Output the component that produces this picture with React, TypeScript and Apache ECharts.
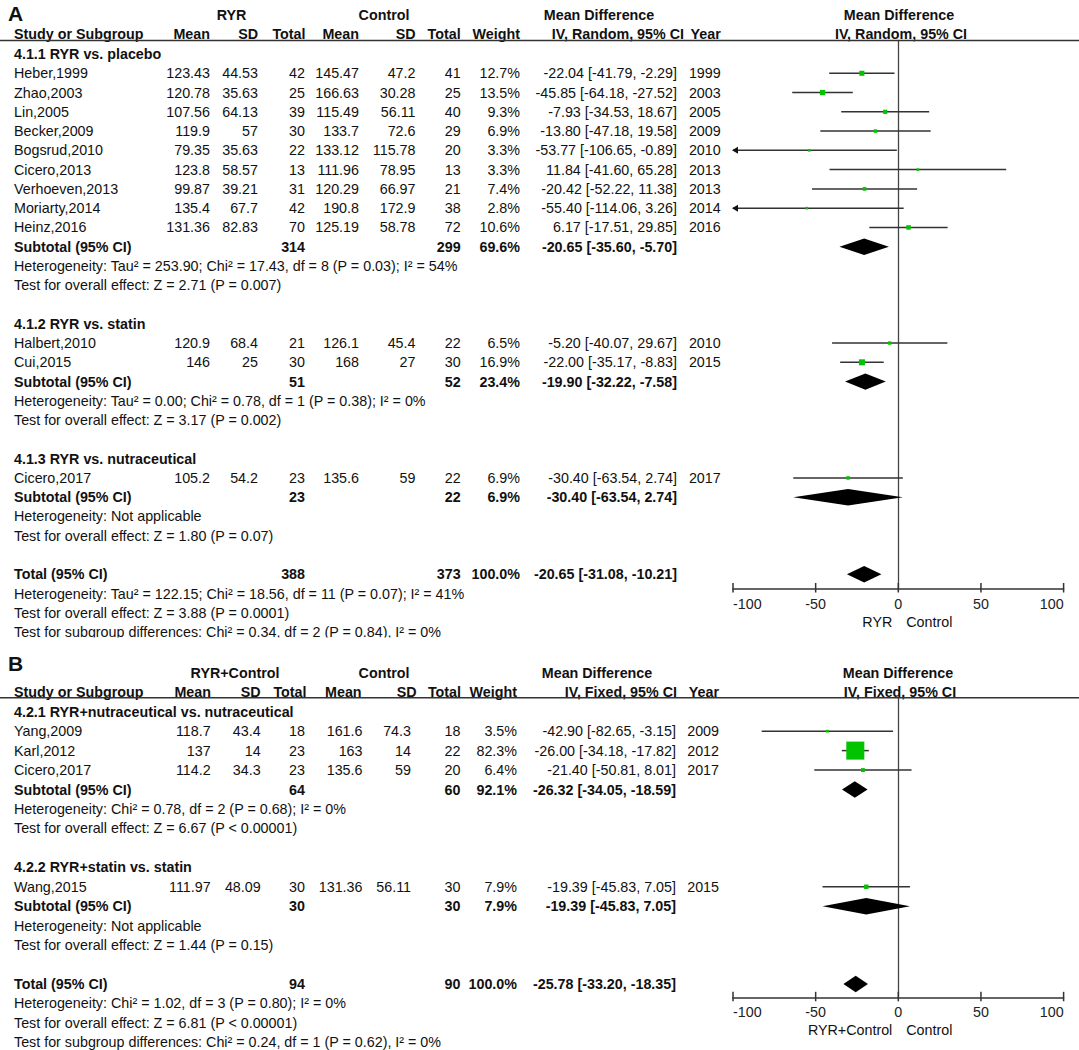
import React, { useEffect, useRef } from 'react';
import * as echarts from 'echarts';

const FONT = '"Liberation Sans", Arial, Helvetica, sans-serif';
const FS = 14.3;
const GREEN = '#00c400';
const INK = '#111111';
const LINE = '#333333';

const X_MIN = -100;
const X_MAX = 100;
const X_STEP = 50;
const TICKS = [-100, -50, 0, 50, 100];
const COL_HEADERS = ['Mean', 'SD', 'Total', 'Mean', 'SD', 'Total', 'Weight'];
const ARM2 = 'Control';

// ---------------- Panel A ----------------
const A_ARM1 = 'RYR';
const A_METHOD = 'IV, Random, 95% CI';
const A_FAVOURS = ['RYR', 'Control'];
const A_STUDY = ['Heber,1999', 'Zhao,2003', 'Lin,2005', 'Becker,2009', 'Bogsrud,2010', 'Cicero,2013', 'Verhoeven,2013', 'Moriarty,2014', 'Heinz,2016', 'Halbert,2010', 'Cui,2015', 'Cicero,2017'];
const A_GROUP = [0, 0, 0, 0, 0, 0, 0, 0, 0, 1, 1, 2];
const A_MEAN1 = [123.43, 120.78, 107.56, 119.9, 79.35, 123.8, 99.87, 135.4, 131.36, 120.9, 146, 105.2];
const A_SD1 = [44.53, 35.63, 64.13, 57, 35.63, 58.57, 39.21, 67.7, 82.83, 68.4, 25, 54.2];
const A_N1 = [42, 25, 39, 30, 22, 13, 31, 42, 70, 21, 30, 23];
const A_MEAN2 = [145.47, 166.63, 115.49, 133.7, 133.12, 111.96, 120.29, 190.8, 125.19, 126.1, 168, 135.6];
const A_SD2 = [47.2, 30.28, 56.11, 72.6, 115.78, 78.95, 66.97, 172.9, 58.78, 45.4, 27, 59];
const A_N2 = [41, 25, 40, 29, 20, 13, 21, 38, 72, 22, 30, 22];
const A_WEIGHT = [12.7, 13.5, 9.3, 6.9, 3.3, 3.3, 7.4, 2.8, 10.6, 6.5, 16.9, 6.9];
const A_MD = [-22.04, -45.85, -7.93, -13.8, -53.77, 11.84, -20.42, -55.4, 6.17, -5.2, -22.0, -30.4];
const A_LO = [-41.79, -64.18, -34.53, -47.18, -106.65, -41.6, -52.22, -114.06, -17.51, -40.07, -35.17, -63.54];
const A_HI = [-2.29, -27.52, 18.67, 19.58, -0.89, 65.28, 11.38, 3.26, 29.85, 29.67, -8.83, 2.74];
const A_YEAR = [1999, 2003, 2005, 2009, 2010, 2013, 2013, 2014, 2016, 2010, 2015, 2017];
const A_GROUP_TITLE = ['4.1.1 RYR vs. placebo', '4.1.2 RYR vs. statin', '4.1.3 RYR vs. nutraceutical'];
const A_SUB_N1 = [314, 51, 23];
const A_SUB_N2 = [299, 52, 22];
const A_SUB_W = [69.6, 23.4, 6.9];
const A_SUB_MD = [-20.65, -19.9, -30.4];
const A_SUB_LO = [-35.6, -32.22, -63.54];
const A_SUB_HI = [-5.7, -7.58, 2.74];
const A_SUB_HET = [
  'Heterogeneity: Tau² = 253.90; Chi² = 17.43, df = 8 (P = 0.03); I² = 54%',
  'Heterogeneity: Tau² = 0.00; Chi² = 0.78, df = 1 (P = 0.38); I² = 0%',
  'Heterogeneity: Not applicable',
];
const A_SUB_TEST = [
  'Test for overall effect: Z = 2.71 (P = 0.007)',
  'Test for overall effect: Z = 3.17 (P = 0.002)',
  'Test for overall effect: Z = 1.80 (P = 0.07)',
];
const A_TOTAL = [388, 373, 100.0, -20.65, -31.08, -10.21];
const A_TOTAL_NOTES = [
  'Heterogeneity: Tau² = 122.15; Chi² = 18.56, df = 11 (P = 0.07); I² = 41%',
  'Test for overall effect: Z = 3.88 (P = 0.0001)',
  'Test for subgroup differences: Chi² = 0.34, df = 2 (P = 0.84), I² = 0%',
];

// ---------------- Panel B ----------------
const B_ARM1 = 'RYR+Control';
const B_METHOD = 'IV, Fixed, 95% CI';
const B_FAVOURS = ['RYR+Control', 'Control'];
const B_STUDY = ['Yang,2009', 'Karl,2012', 'Cicero,2017', 'Wang,2015'];
const B_GROUP = [0, 0, 0, 1];
const B_MEAN1 = [118.7, 137, 114.2, 111.97];
const B_SD1 = [43.4, 14, 34.3, 48.09];
const B_N1 = [18, 23, 23, 30];
const B_MEAN2 = [161.6, 163, 135.6, 131.36];
const B_SD2 = [74.3, 14, 59, 56.11];
const B_N2 = [18, 22, 20, 30];
const B_WEIGHT = [3.5, 82.3, 6.4, 7.9];
const B_MD = [-42.9, -26.0, -21.4, -19.39];
const B_LO = [-82.65, -34.18, -50.81, -45.83];
const B_HI = [-3.15, -17.82, 8.01, 7.05];
const B_YEAR = [2009, 2012, 2017, 2015];
const B_GROUP_TITLE = ['4.2.1 RYR+nutraceutical vs. nutraceutical', '4.2.2 RYR+statin vs. statin'];
const B_SUB_N1 = [64, 30];
const B_SUB_N2 = [60, 30];
const B_SUB_W = [92.1, 7.9];
const B_SUB_MD = [-26.32, -19.39];
const B_SUB_LO = [-34.05, -45.83];
const B_SUB_HI = [-18.59, 7.05];
const B_SUB_HET = ['Heterogeneity: Chi² = 0.78, df = 2 (P = 0.68); I² = 0%', 'Heterogeneity: Not applicable'];
const B_SUB_TEST = ['Test for overall effect: Z = 6.67 (P < 0.00001)', 'Test for overall effect: Z = 1.44 (P = 0.15)'];
const B_TOTAL = [94, 90, 100.0, -25.78, -33.2, -18.35];
const B_TOTAL_NOTES = [
  'Heterogeneity: Chi² = 1.02, df = 3 (P = 0.80); I² = 0%',
  'Test for overall effect: Z = 6.81 (P < 0.00001)',
  'Test for subgroup differences: Chi² = 0.24, df = 1 (P = 0.62), I² = 0%',
];

// ---------------- Layout (positions only) ----------------
const PLOT_LEFT = 733;
const PLOT_WIDTH = 330.6;

const LAYOUT_A = {
  letter: 'A', letterY: 13.5, hdrY1: 15, hdrY2: 34, ruleY: 40.5, line0: 54, step: 19.27, axisY: 588.5,
  arm1X: 231.5, arm2X: 384, mdHdrX: 599, plotHdrX: 899,
  hdrColX: [210, 258, 305.5, 359, 415.6, 460.7, 520], methodHdrRight: 684, yearHdrRight: 720.7,
  colX: [210, 258, 305, 359, 415.5, 460.7, 520], ciRight: 677, yearRight: 720.7,
  symK: 1.1, symMin: 2.6, clipTop: 637.5,
};
const LAYOUT_B = {
  letter: 'B', letterY: 663, hdrY1: 672.7, hdrY2: 692, ruleY: 697.7, line0: 711.7, step: 19.45, axisY: 997.3,
  arm1X: 235, arm2X: 384, mdHdrX: 597, plotHdrX: 898,
  hdrColX: [211, 260.7, 306.5, 361.6, 416.7, 461, 517], methodHdrRight: 677, yearHdrRight: 719,
  colX: [210.7, 260.7, 305, 362.5, 411, 460.5, 517], ciRight: 676, yearRight: 719,
  symK: 1.28, symMin: 2.6, clipTop: 0,
};

const num = (v: number) => String(v);
const ci = (m: number, l: number, h: number) => `${m.toFixed(2)} [${l.toFixed(2)}, ${h.toFixed(2)}]`;
const pct = (w: number) => `${w.toFixed(1)}%`;

function T(x: number, y: number, s: string, align: string, bold = false, size = FS) {
  return {
    type: 'text', x, y, silent: true, z: 10,
    style: {
      text: s, fill: INK, fontSize: size, fontFamily: FONT, fontWeight: bold ? 'bold' : 'normal',
      align, textAlign: align, verticalAlign: 'middle', textVerticalAlign: 'middle',
    },
  };
}

function buildPanel(d: any, L: any, idx: number) {
  const g: any[] = [];
  const Y = (i: number) => L.line0 + i * L.step;
  const ymin = (L.ruleY - L.line0) / L.step;
  const ymax = (L.axisY - L.line0) / L.step;

  g.push(T(8, L.letterY, L.letter, 'left', true, 21));
  g.push(T(L.arm1X, L.hdrY1, d.arm1, 'center', true));
  g.push(T(L.arm2X, L.hdrY1, ARM2, 'center', true));
  g.push(T(L.mdHdrX, L.hdrY1, 'Mean Difference', 'center', true));
  g.push(T(L.plotHdrX, L.hdrY1, 'Mean Difference', 'center', true));
  g.push(T(14, L.hdrY2, 'Study or Subgroup', 'left', true));
  COL_HEADERS.forEach((h, i) => g.push(T(L.hdrColX[i], L.hdrY2, h, 'right', true)));
  g.push(T(L.methodHdrRight, L.hdrY2, d.method, 'right', true));
  g.push(T(L.yearHdrRight, L.hdrY2, 'Year', 'right', true));
  g.push(T(L.plotHdrX + 2, L.hdrY2, d.method, 'center', true));
  g.push({ type: 'line', silent: true, z: 10, shape: { x1: 0, y1: L.ruleY, x2: 1079, y2: L.ruleY }, style: { stroke: LINE, lineWidth: 1.5 } });

  const studyData: any[] = [];
  const diamondData: any[] = [];
  let line = 0;
  d.groupTitle.forEach((title: string, gi: number) => {
    g.push(T(14, Y(line), title, 'left', true));
    line++;
    d.study.forEach((s: string, si: number) => {
      if (d.group[si] !== gi) return;
      const y = Y(line);
      const vals = [num(d.mean1[si]), num(d.sd1[si]), num(d.n1[si]), num(d.mean2[si]), num(d.sd2[si]), num(d.n2[si]), pct(d.weight[si])];
      g.push(T(14, y, s, 'left'));
      vals.forEach((v, k) => g.push(T(L.colX[k], y, v, 'right')));
      g.push(T(L.ciRight, y, ci(d.md[si], d.lo[si], d.hi[si]), 'right'));
      g.push(T(L.yearRight, y, String(d.year[si]), 'right'));
      studyData.push([d.md[si], d.lo[si], d.hi[si], line, d.weight[si]]);
      line++;
    });
    const ys = Y(line);
    g.push(T(14, ys, 'Subtotal (95% CI)', 'left', true));
    g.push(T(L.colX[2], ys, num(d.subN1[gi]), 'right', true));
    g.push(T(L.colX[5], ys, num(d.subN2[gi]), 'right', true));
    g.push(T(L.colX[6], ys, pct(d.subW[gi]), 'right', true));
    g.push(T(L.ciRight, ys, ci(d.subMd[gi], d.subLo[gi], d.subHi[gi]), 'right', true));
    diamondData.push([d.subMd[gi], d.subLo[gi], d.subHi[gi], line]);
    line++;
    g.push(T(14, Y(line), d.subHet[gi], 'left'));
    line++;
    g.push(T(14, Y(line), d.subTest[gi], 'left'));
    line++;
    line++;
  });
  const yt = Y(line);
  const tot = d.total;
  g.push(T(14, yt, 'Total (95% CI)', 'left', true));
  g.push(T(L.colX[2], yt, num(tot[0]), 'right', true));
  g.push(T(L.colX[5], yt, num(tot[1]), 'right', true));
  g.push(T(L.colX[6], yt, pct(tot[2]), 'right', true));
  g.push(T(L.ciRight, yt, ci(tot[3], tot[4], tot[5]), 'right', true));
  diamondData.push([tot[3], tot[4], tot[5], line]);
  line++;
  d.totalNotes.forEach((n: string) => {
    g.push(T(14, Y(line), n, 'left'));
    line++;
  });

  const zeroX = PLOT_LEFT + PLOT_WIDTH * (0 - X_MIN) / (X_MAX - X_MIN);
  const favY = L.axisY + 33;
  g.push(T(zeroX - 6, favY, d.favours[0], 'right'));
  g.push(T(zeroX + 8, favY, d.favours[1], 'left'));

  if (L.clipTop) {
    g.push({ type: 'rect', silent: true, z: 100, shape: { x: 0, y: L.clipTop, width: 1079, height: 14 }, style: { fill: '#ffffff' } });
  }

  const grid = {
    left: PLOT_LEFT, top: L.ruleY, width: PLOT_WIDTH, height: L.axisY - L.ruleY,
    containLabel: false, outerBoundsMode: 'none',
  };
  const xAxis = {
    type: 'value', gridIndex: idx, min: X_MIN, max: X_MAX, interval: X_STEP, position: 'bottom',
    axisLine: { show: true, onZero: false, lineStyle: { color: LINE, width: 1.5 } },
    axisTick: { show: false }, splitLine: { show: false },
    axisLabel: { fontSize: FS, fontFamily: FONT, color: '#222', margin: 8, alignMinLabel: 'left', alignMaxLabel: 'right' },
  };
  const yAxis = {
    type: 'value', gridIndex: idx, min: ymin, max: ymax, inverse: true,
    axisLine: { show: true, onZero: true, lineStyle: { color: '#444', width: 1.3 } },
    axisTick: { show: false }, axisLabel: { show: false }, splitLine: { show: false },
  };

  const series = [
    {
      type: 'custom', xAxisIndex: idx, yAxisIndex: idx, clip: false, silent: true, z: 5,
      data: studyData,
      renderItem: (_p: any, api: any) => {
        const md = api.value(0), lo = api.value(1), hi = api.value(2), row = api.value(3), w = api.value(4);
        const pl = api.coord([Math.max(lo, X_MIN), row]);
        const pr = api.coord([Math.min(hi, X_MAX), row]);
        const pm = api.coord([md, row]);
        const ch: any[] = [
          { type: 'line', shape: { x1: pl[0], y1: pl[1], x2: pr[0], y2: pr[1] }, style: { stroke: LINE, lineWidth: 1.5 } },
        ];
        if (lo < X_MIN) {
          ch.push({ type: 'polygon', shape: { points: [[pl[0] - 1, pl[1]], [pl[0] + 5, pl[1] - 3.5], [pl[0] + 5, pl[1] + 3.5]] }, style: { fill: '#111' } });
        }
        if (hi > X_MAX) {
          ch.push({ type: 'polygon', shape: { points: [[pr[0] + 1, pr[1]], [pr[0] - 5, pr[1] - 3.5], [pr[0] - 5, pr[1] + 3.5]] }, style: { fill: '#111' } });
        }
        const s = Math.max(L.symMin, L.symK * Math.pow(w, 0.6));
        ch.push({ type: 'rect', shape: { x: pm[0] - s / 2, y: pm[1] - s / 2, width: s, height: s }, style: { fill: GREEN } });
        return { type: 'group', children: ch };
      },
    },
    {
      type: 'custom', xAxisIndex: idx, yAxisIndex: idx, clip: false, silent: true, z: 5,
      data: diamondData,
      renderItem: (_p: any, api: any) => {
        const md = api.value(0), lo = api.value(1), hi = api.value(2), row = api.value(3);
        const a = api.coord([lo, row]);
        const m = api.coord([md, row]);
        const b = api.coord([hi, row]);
        const h = 8.2;
        return { type: 'polygon', shape: { points: [[a[0], a[1]], [m[0], m[1] - h], [b[0], b[1]], [m[0], m[1] + h]] }, style: { fill: '#000' } };
      },
    },
    {
      type: 'custom', xAxisIndex: idx, yAxisIndex: idx, clip: false, silent: true, z: 6,
      data: TICKS.map((v) => [v]),
      renderItem: (_p: any, api: any) => {
        const p = api.coord([api.value(0), ymax]);
        return { type: 'line', shape: { x1: p[0], y1: p[1] - 5.5, x2: p[0], y2: p[1] + 4 }, style: { stroke: LINE, lineWidth: 1.5 } };
      },
    },
  ];
  return { graphic: g, grid, xAxis, yAxis, series };
}

const DATA_A = {
  arm1: A_ARM1, method: A_METHOD, favours: A_FAVOURS, study: A_STUDY, group: A_GROUP,
  mean1: A_MEAN1, sd1: A_SD1, n1: A_N1, mean2: A_MEAN2, sd2: A_SD2, n2: A_N2, weight: A_WEIGHT,
  md: A_MD, lo: A_LO, hi: A_HI, year: A_YEAR, groupTitle: A_GROUP_TITLE,
  subN1: A_SUB_N1, subN2: A_SUB_N2, subW: A_SUB_W, subMd: A_SUB_MD, subLo: A_SUB_LO, subHi: A_SUB_HI,
  subHet: A_SUB_HET, subTest: A_SUB_TEST, total: A_TOTAL, totalNotes: A_TOTAL_NOTES,
};
const DATA_B = {
  arm1: B_ARM1, method: B_METHOD, favours: B_FAVOURS, study: B_STUDY, group: B_GROUP,
  mean1: B_MEAN1, sd1: B_SD1, n1: B_N1, mean2: B_MEAN2, sd2: B_SD2, n2: B_N2, weight: B_WEIGHT,
  md: B_MD, lo: B_LO, hi: B_HI, year: B_YEAR, groupTitle: B_GROUP_TITLE,
  subN1: B_SUB_N1, subN2: B_SUB_N2, subW: B_SUB_W, subMd: B_SUB_MD, subLo: B_SUB_LO, subHi: B_SUB_HI,
  subHet: B_SUB_HET, subTest: B_SUB_TEST, total: B_TOTAL, totalNotes: B_TOTAL_NOTES,
};

export default function App() {
  const ref = useRef<HTMLDivElement>(null);
  useEffect(() => {
    if (!ref.current) return;
    const chart = echarts.init(ref.current, undefined, { renderer: 'svg' });
    const pa = buildPanel(DATA_A, LAYOUT_A, 0);
    const pb = buildPanel(DATA_B, LAYOUT_B, 1);
    chart.setOption({
      animation: false,
      backgroundColor: '#ffffff',
      grid: [pa.grid, pb.grid],
      xAxis: [pa.xAxis, pb.xAxis],
      yAxis: [pa.yAxis, pb.yAxis],
      series: [...pa.series, ...pb.series],
      graphic: { elements: [...pa.graphic, ...pb.graphic] },
    });
    return () => chart.dispose();
  }, []);
  return (
    <div
      ref={ref}
      style={{ position: 'absolute', left: 0, top: 0, width: 1079, height: 1050, background: '#fff' }}
    />
  );
}
